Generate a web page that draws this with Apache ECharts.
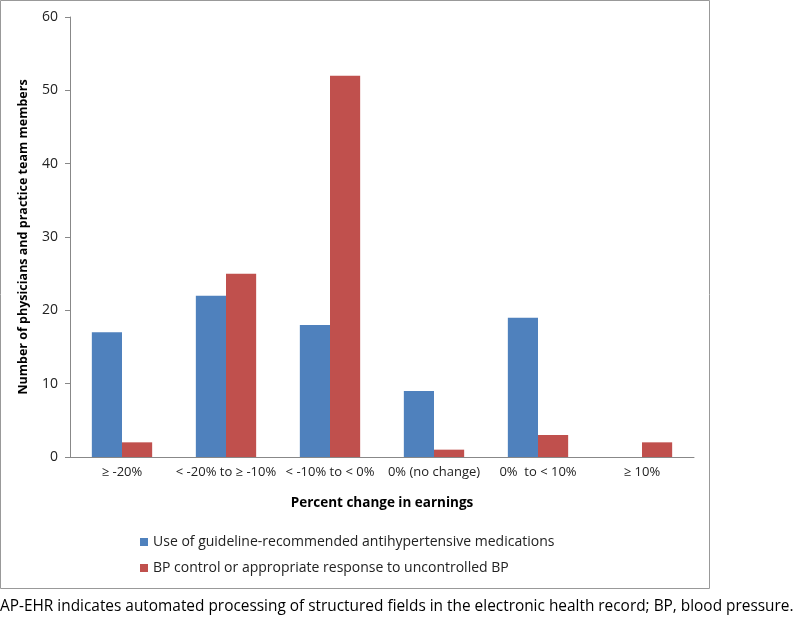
<!DOCTYPE html>
<html><head><meta charset="utf-8">
<script src="https://cdn.jsdelivr.net/npm/echarts@6/dist/echarts.min.js"></script>
<style>html,body{margin:0;padding:0;background:#fff}#c{width:800px;height:627px}</style>
</head><body><div id="c"></div>
<script>
var categories = ['\u2265 -20%', '< -20% to \u2265 -10%', '< -10% to < 0%', '0% (no change)', '0%  to < 10%', '\u2265 10%'];
var seriesNames = ['Use of guideline-recommended antihypertensive medications', 'BP control or appropriate response to uncontrolled BP'];
var medsValues = [17, 22, 18, 9, 19, 0];
var bpValues = [2, 25, 52, 1, 3, 2];
var yTicks = [0, 10, 20, 30, 40, 50, 60];
var footnote = 'AP-EHR indicates automated processing of structured fields in the electronic health record; BP, blood pressure.';

var FONT = '"Open Sans", sans-serif';
var chart = echarts.init(document.getElementById('c'), null, {renderer: 'canvas'});
chart.setOption({
  animation: false,
  textStyle: {fontFamily: FONT},
  grid: {left: 70, right: 106, top: 17, bottom: 170, containLabel: false},
  xAxis: {
    type: 'category', data: categories,
    name: 'Percent change in earnings', nameLocation: 'middle', nameGap: 39,
    nameTextStyle: {fontWeight: 'bold', fontSize: 13.5, color: '#000', fontFamily: FONT},
    axisLine: {lineStyle: {color: '#888', width: 1}},
    axisTick: {show: false},
    axisLabel: {fontSize: 13, color: '#222', margin: 9, interval: 0, fontFamily: FONT}
  },
  yAxis: {
    type: 'value', min: yTicks[0], max: yTicks[yTicks.length - 1], interval: 10,
    name: 'Number of physicians and practice team members', nameLocation: 'middle', nameGap: 40,
    nameTextStyle: {fontWeight: 'bold', fontSize: 12.5, color: '#000', fontFamily: FONT},
    axisLine: {show: true, lineStyle: {color: '#888', width: 1}},
    axisTick: {show: true, length: 5, lineStyle: {color: '#888'}},
    splitLine: {show: false},
    axisLabel: {fontSize: 14, color: '#222', margin: 12, fontFamily: FONT}
  },
  legend: {
    orient: 'vertical', left: 135, top: 530, itemGap: 12,
    itemWidth: 8, itemHeight: 8, icon: 'rect',
    textStyle: {fontSize: 14, color: '#222', fontFamily: FONT},
    data: seriesNames
  },
  series: [
    {name: seriesNames[0], type: 'bar', data: medsValues, barGap: '0%', barCategoryGap: '42%',
     itemStyle: {color: '#4F81BD'}},
    {name: seriesNames[1], type: 'bar', data: bpValues, barGap: '0%', barCategoryGap: '42%',
     itemStyle: {color: '#C0504D'}}
  ],
  graphic: [
    {type: 'rect', shape: {x: 0.5, y: 0.5, width: 709, height: 588}, style: {fill: 'none', stroke: '#999', lineWidth: 1}, silent: true},
    {type: 'text', left: 0, top: 599, style: {text: footnote, font: '15.4px ' + FONT, fill: '#000'}}
  ]
});
</script></body></html>
